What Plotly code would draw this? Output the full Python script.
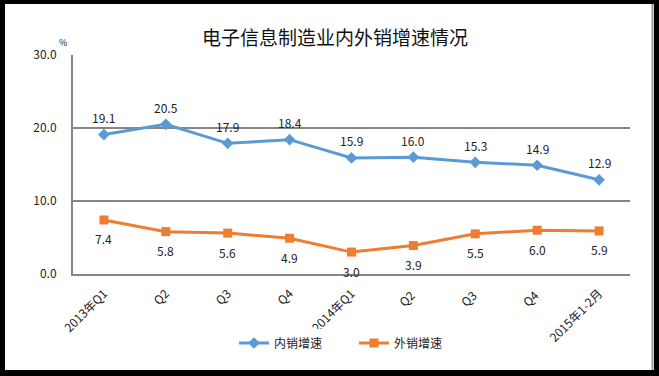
import plotly.graph_objects as go

categories = ["2013年Q1", "Q2", "Q3", "Q4", "2014年Q1", "Q2 ", "Q3 ", "Q4 ", "2015年1-2月"]
domestic = [19.1, 20.5, 17.9, 18.4, 15.9, 16.0, 15.3, 14.9, 12.9]
export = [7.4, 5.8, 5.6, 4.9, 3.0, 3.9, 5.5, 6.0, 5.9]
y_ticks = [0, 10, 20, 30]
y_tick_labels = ["0.0", "10.0", "20.0", "30.0"]

FONT = "Noto Sans CJK SC, sans-serif"
BLUE = "#5B9BD5"
ORANGE = "#ED7D31"

W, H = 659, 376
L, R, T, B = 73, 29, 55, 102
pw, ph = W - L - R, H - T - B

def px(X):
    return (X - L) / pw

def py(Y):
    return (H - B - Y) / ph

fig = go.Figure()
fig.add_trace(go.Scatter(
    x=categories, y=domestic, name="内销增速", mode="lines+markers",
    line=dict(color=BLUE, width=3),
    marker=dict(symbol="diamond", size=9, color=BLUE),
))
fig.add_trace(go.Scatter(
    x=categories, y=export, name="外销增速", mode="lines+markers",
    line=dict(color=ORANGE, width=3),
    marker=dict(symbol="square", size=9, color=ORANGE),
))

annotations = []
for c, v in zip(categories, domestic):
    annotations.append(dict(x=c, y=v, text=f"{v:.1f}", showarrow=False, yshift=17,
                            font=dict(family=FONT, size=12, color="#222")))
for c, v in zip(categories, export):
    annotations.append(dict(x=c, y=v, text=f"{v:.1f}", showarrow=False, yshift=-19,
                            font=dict(family=FONT, size=12, color="#222")))
annotations.append(dict(xref="paper", yref="paper", x=px(63), y=py(42), text="%",
                        xanchor="center", yanchor="middle",
                        showarrow=False, font=dict(family=FONT, size=9, color="#222")))

shapes = [
    dict(type="rect", xref="paper", yref="paper", x0=px(0), x1=px(5), y0=py(0), y1=py(376),
         fillcolor="black", line_width=0, layer="above"),
    dict(type="rect", xref="paper", yref="paper", x0=px(0), x1=px(659), y0=py(0), y1=py(4),
         fillcolor="black", line_width=0, layer="above"),
    dict(type="rect", xref="paper", yref="paper", x0=px(654), x1=px(659), y0=py(0), y1=py(376),
         fillcolor="black", line_width=0, layer="above"),
    dict(type="rect", xref="paper", yref="paper", x0=px(0), x1=px(659), y0=py(370), y1=py(376),
         fillcolor="black", line_width=0, layer="above"),
    dict(type="line", xref="paper", yref="paper", x0=px(652.5), x1=px(652.5), y0=py(4), y1=py(370),
         line=dict(color="#9a9a9a", width=2), layer="above"),
]

fig.update_layout(
    width=W, height=H,
    margin=dict(l=L, r=R, t=T, b=B),
    paper_bgcolor="white", plot_bgcolor="white",
    title=dict(text="电子信息制造业内外销增速情况", x=335 / W, xanchor="center",
               y=1 - 38 / H, yanchor="middle", yref="container",
               font=dict(family=FONT, size=19, color="#111")),
    font=dict(family=FONT, size=12, color="#222"),
    xaxis=dict(type="category", categoryorder="array", categoryarray=categories,
               range=[-0.5, 8.5], tickangle=-45, showgrid=False,
               showline=True, linecolor="#868686", linewidth=2,
               tickfont=dict(family=FONT, size=12, color="#222"), ticks="",
               ticklabelstandoff=6),
    yaxis=dict(range=[0, 30], tickvals=y_ticks, ticktext=y_tick_labels,
               showgrid=True, gridcolor="#868686", gridwidth=2,
               showline=True, linecolor="#868686", linewidth=2, zeroline=False,
               tickfont=dict(family=FONT, size=12, color="#222"), ticks="",
               ticklabelstandoff=12),
    legend=dict(orientation="h", x=px(354), xanchor="center", y=py(343), yanchor="middle",
                font=dict(family=FONT, size=12, color="#222"), entrywidth=75, itemwidth=30),
    showlegend=True,
    hovermode=False,
    annotations=annotations,
    shapes=shapes,
)

fig.write_html("out.html", post_script="document.body.style.margin='0';",
               config=dict(displayModeBar=False))
